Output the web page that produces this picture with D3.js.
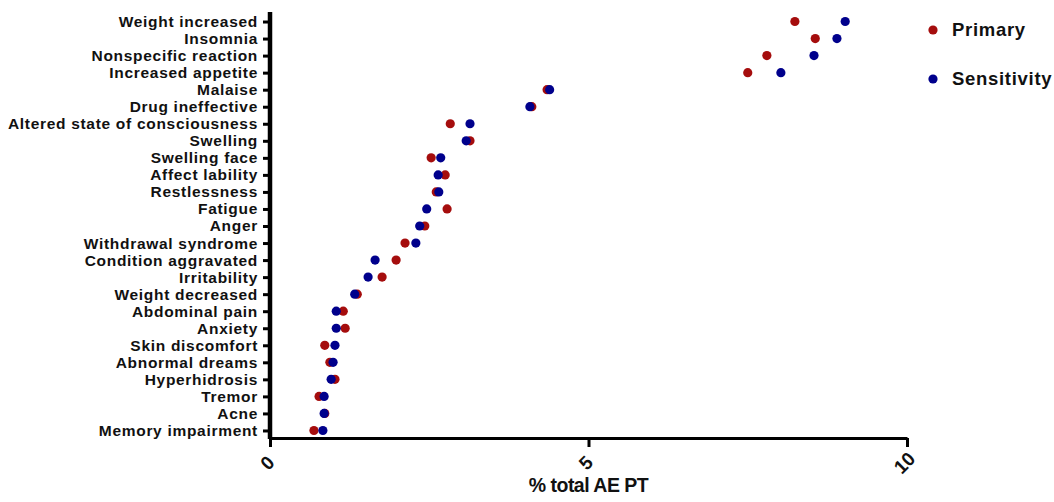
<!DOCTYPE html>
<html>
<head>
<meta charset="utf-8">
<script src="https://cdn.jsdelivr.net/npm/d3@7"></script>
<style>
  body { margin: 0; background: #fff; }
  text { font-family: "Liberation Sans", Arial, sans-serif; font-weight: bold; fill: #111; }
  .y.axis text { font-size: 15.5px; letter-spacing: 0.7px; }
  .x.axis text { font-size: 19px; }
  .legend text { font-size: 18.5px; letter-spacing: 0.7px; }
  .axis-text { font-size: 19.5px; letter-spacing: -0.5px; }
</style>
</head>
<body>
<div id="chart"></div>
<script>
const events = ['Weight increased', 'Insomnia', 'Nonspecific reaction', 'Increased appetite',
  'Malaise', 'Drug ineffective', 'Altered state of consciousness', 'Swelling', 'Swelling face',
  'Affect lability', 'Restlessness', 'Fatigue', 'Anger', 'Withdrawal syndrome',
  'Condition aggravated', 'Irritability', 'Weight decreased', 'Abdominal pain', 'Anxiety',
  'Skin discomfort', 'Abnormal dreams', 'Hyperhidrosis', 'Tremor', 'Acne', 'Memory impairment']

const primary = [8.24, 8.56, 7.80, 7.50, 4.35, 4.11, 2.83, 3.14, 2.53, 2.75, 2.61, 2.78, 2.43,
  2.12, 1.98, 1.76, 1.37, 1.15, 1.18, 0.86, 0.94, 1.02, 0.77, 0.86, 0.69]

const sensitivity = [9.03, 8.90, 8.54, 8.02, 4.39, 4.08, 3.14, 3.08, 2.68, 2.64, 2.65, 2.46, 2.35,
  2.29, 1.65, 1.54, 1.33, 1.04, 1.04, 1.02, 0.99, 0.96, 0.85, 0.85, 0.83]

const xTicks = [0, 5, 10]
const seriesNames = ['Primary', 'Sensitivity']
const colors = ['#a50d0d', '#00008c']

const width = 1054
const height = 502
const plot = { left: 270, right: 907, top: 13, bottom: 438 }

const svg = d3.select('#chart')
  .append('svg')
  .attr('width', width)
  .attr('height', height)

const xScale = d3.scaleLinear().domain([0, 10]).range([plot.left, plot.right])
const yScale = d3.scalePoint().domain(events).range([plot.top, plot.bottom + 1]).padding(0.5)

// x axis along the bottom, labels tilted
const xAxis = svg.append('g')
  .attr('class', 'x axis')
  .attr('transform', `translate(0, ${plot.bottom})`)
  .call(d3.axisBottom(xScale).tickValues(xTicks).tickSize(9).tickSizeOuter(0))

xAxis.select('.domain').attr('stroke', '#000').attr('stroke-width', 3)
xAxis.selectAll('.tick line').attr('stroke', '#000').attr('stroke-width', 3)
xAxis.selectAll('.tick text')
  .attr('y', 0)
  .attr('dy', null)
  .attr('text-anchor', 'middle')
  .attr('dominant-baseline', 'central')
  .attr('transform', 'translate(-3, 25) rotate(-45)')

// y axis with the event names
const yAxis = svg.append('g')
  .attr('class', 'y axis')
  .attr('transform', `translate(${plot.left}, 0)`)
  .call(d3.axisLeft(yScale).tickSize(7).tickPadding(5).tickSizeOuter(0))

yAxis.select('.domain').attr('stroke', '#000').attr('stroke-width', 4.5)
  .attr('d', `M0,${plot.top - 1}V${plot.bottom + 1}`)
yAxis.selectAll('.tick line').attr('stroke', '#000').attr('stroke-width', 3)

svg.append('text')
  .attr('class', 'axis-text')
  .attr('x', (plot.left + plot.right) / 2)
  .attr('y', 492)
  .attr('text-anchor', 'middle')
  .text('% total AE PT')

// points, primary first so sensitivity sits on top
const series = [primary, sensitivity]
series.forEach((values, i) => {
  svg.append('g')
    .selectAll('circle')
    .data(values)
    .join('circle')
    .attr('cx', d => xScale(d))
    .attr('cy', (d, j) => yScale(events[j]))
    .attr('r', 4.6)
    .attr('fill', colors[i])
})

// legend
const legend = svg.append('g').attr('class', 'legend')
seriesNames.forEach((name, i) => {
  const y = 30 + i * 49
  legend.append('circle')
    .attr('cx', 933)
    .attr('cy', y)
    .attr('r', 4.6)
    .attr('fill', colors[i])
  legend.append('text')
    .attr('x', 952)
    .attr('y', y)
    .attr('dy', '0.35em')
    .text(name)
})
</script>
</body>
</html>
